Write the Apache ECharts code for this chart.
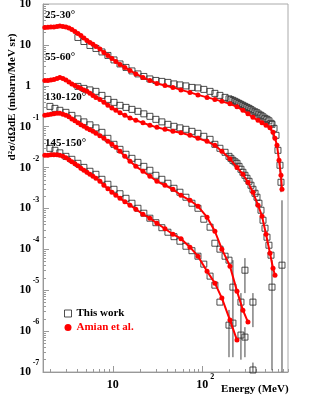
<!DOCTYPE html>
<html><head><meta charset="utf-8">
<script src="https://cdn.jsdelivr.net/npm/echarts@6/dist/echarts.min.js"></script>
<style>html,body{margin:0;padding:0;background:#fff}#c{width:311px;height:402px}</style>
</head><body><div id="c"></div>
<script>
// ---- Amian et al. (red dots) ----
const amianE = [1.72,1.86,2.01,2.17,2.35,2.53,2.74,2.96,3.20,3.45,3.73,4.03,4.35,4.70,5.08,5.49,5.93,6.41,7.10,7.87,8.72,9.67,10.7,11.9,13.5,15.4,17.9,21.5,25.7,30.8,37.9,46.5,57.2,72.1,88.6,112,137,164,202,242,282,321,365,416,461,511,566,612,644,678,714,751,771];
const amian25 = [26.7,27.0,27.4,27.4,28.2,29.0,28.2,27.4,25.9,23.8,21.3,19.0,17.0,14.8,12.8,11.5,10.3,9.16,7.96,6.53,5.52,4.67,3.94,3.33,2.81,2.38,1.95,1.60,1.35,1.14,1.02,0.912,0.793,0.689,0.598,0.520,0.465,0.416,0.361,0.305,0.251,0.206,0.169,0.143,0.124,0.108,0.0935,0.0727,0.0519,0.0350,0.0150,0.00647,0.00294];
const amian55 = [1.35,1.35,1.39,1.43,1.51,1.60,1.51,1.39,1.24,1.11,1.02,0.939,0.863,0.793,0.730,0.652,0.582,0.520,0.465,0.393,0.332,0.288,0.251,0.218,0.189,0.164,0.143,0.124,0.108,0.0962,0.0861,0.0769,0.0706,0.0614,0.0519,0.0438,0.0350,0.0249,0.0164,0.0101,0.00684,0.00437,0.00249,0.00120,6.46e-4,2.34e-4,8.0e-5,3.46e-5,2.33e-5,null,null,null,null];
const amian130 = [0.189,0.195,0.200,0.206,0.212,0.212,0.200,0.189,0.174,0.155,0.139,0.124,0.111,0.102,0.0910,0.0836,0.0769,0.0687,0.0597,0.0519,0.0438,0.0370,0.0313,0.0249,0.0188,0.0142,0.0107,0.00811,0.00612,0.00461,0.00369,0.00294,0.00210,0.00158,0.00113,6.10e-4,2.77e-4,1.01e-4,3.87e-5,9.5e-6,3.26e-6,1.66e-6,null,null,null,null,null,null,null,null,null,null,null];
const amian145 = [0.0199,0.0199,0.0205,0.0205,0.0205,0.0199,0.0188,0.0173,0.0155,0.0138,0.0124,0.0110,0.00959,0.00857,0.00766,0.00684,0.00612,0.00547,0.00461,0.00369,0.00303,0.00249,0.00210,0.00177,0.00146,0.00120,9.55e-4,7.21e-4,5.77e-4,4.35e-4,3.19e-4,2.34e-4,1.82e-4,1.13e-4,6.79e-5,2.92e-5,1.49e-5,6.41e-6,1.86e-6,6.04e-7,null,null,null,null,null,null,null,null,null,null,null,null,null];

// ---- This work (open squares), forward angles ----
const twFwdE = [4.03,4.70,5.49,6.41,7.48,8.72,10.2,11.9,13.9,16.2,18.9,22.0,25.7,30.0,35.0,40.9,47.8,55.7,65.0,75.9,88.6,103,121,137,156,178,197,207,218,230,242,255,268,282,297,313,330,347,365,385,405,426,449,473,498,524,551,581,596,628,661,695,732,751,771];
const tw25 = [15.2,12.1,9.69,8.18,6.72,5.52,4.29,3.42,2.81,2.31,1.95,1.69,1.47,1.35,1.28,1.21,1.11,1.05,0.993,0.912,0.887,0.816,0.730,0.652,0.582,0.520,0.479,0.457,0.440,0.416,0.393,0.371,0.351,0.332,0.313,0.296,0.280,0.261,0.243,0.230,0.218,0.202,0.189,0.174,0.160,0.151,0.139,0.121,0.114,0.0910,0.0614,0.0264,0.0114,0.00437,4.10e-5];
const tw55 = [0.966,0.863,0.793,0.730,0.582,0.465,0.393,0.332,0.296,0.265,0.237,0.206,0.179,0.151,0.131,0.114,0.102,0.0935,0.0861,0.0769,0.0687,0.0581,0.0490,0.0370,0.0296,0.0236,0.0188,0.0168,0.0150,0.0138,0.0127,0.0107,0.00908,0.00766,0.00647,0.00547,0.00461,0.00369,0.00294,0.00235,0.00188,0.00134,9.04e-4,5.15e-4,3.28e-4,1.98e-4,1.26e-4,7.19e-5,1.19e-5,null,null,null,null,null,null];

// ---- This work (open squares), backward angles ----
const twBwdE = [1.96,2.23,2.53,2.96,3.45,4.03,4.70,5.49,6.41,7.48,8.72,10.2,11.9,13.9,16.2,18.9,22.0,25.7,30.0,35.0,40.9,47.8,55.7,65.0,75.9,88.6,103,121,137,156,178,197,218,242,268,297,330,365];
const tw130 = [0.313,0.280,0.251,0.224,0.189,0.155,0.131,0.111,0.0935,0.0727,0.0519,0.0370,0.0279,0.0211,0.0168,0.0134,0.0107,0.00857,0.00647,0.00516,0.00413,0.00311,0.00249,0.00188,0.00134,0.00101,5.45e-4,3.48e-4,1.41e-4,1.01e-4,6.79e-5,5.43e-5,1.19e-5,null,5.12e-6,3.09e-5,null,5.12e-6];
const tw145 = [0.0295,0.0264,0.0229,0.0188,0.0159,0.0127,0.0101,0.00811,0.00684,0.00516,0.00390,0.00294,0.00229,0.00177,0.00134,0.00101,7.64e-4,5.77e-4,4.48e-4,3.38e-4,2.62e-4,2.04e-4,1.58e-4,1.19e-4,9.27e-5,6.79e-5,4.34e-5,2.21e-5,1.33e-5,5.12e-6,null,1.40e-6,1.57e-6,null,8.0e-7,7.14e-7,null,1.12e-7];

// error bars of This work: [energy, low, high]
const twErrors = [
  [771, 5e-8, 1.58e-3], [751, 0.0025, 0.0075], [732, 0.0075, 0.016],
  [596, 1.1e-7, 5.43e-5],
  [218, 2.3e-7, 5.43e-5], [297, 8.5e-6, 6.1e-5], [365, 1.25e-6, 8.5e-6],
  [197, 2.3e-7, 3.3e-6], [268, 2.0e-7, 8.5e-6], [297, 2.3e-7, 1.25e-6], [365, 5e-8, 1.7e-7]
];

const angleLabels = ['25-30°', '55-60°', '130-120°', '145-150°'];
const xMajorTicks = [10, 100];
const yMajorTicks = [1e-7,1e-6,1e-5,1e-4,1e-3,1e-2,1e-1,1,10,100];
const mult = [2,3,4,5,6,7,8,9];
const xMinorTicks = [];
[1, 10, 100].forEach(d => mult.forEach(m => xMinorTicks.push(d*m)));
const yMinorTicks = [];
yMajorTicks.slice(0, -1).forEach(d => mult.forEach(m => yMinorTicks.push(+(d*m).toPrecision(3))));

const FONT = "'Liberation Serif','Times New Roman',serif";
const AXC = '#999';

function pairs(E, V) { return E.map((e, i) => [e, V[i]]).filter(p => p[1] != null); }

function expLabelY(v) {
  const e = Math.round(Math.log10(v));
  if (e === 0) return '{b|1}{s|}';
  if (e === 1) return '{b|10}{s|}';
  return '{b|10}{s|' + e + '}';
}
function expLabelX(v) {
  const e = Math.round(Math.log10(v));
  if (e === 1) return '{p|}{b|10}{s|}';
  return '{p|}{b|10}{s|' + e + '}';
}
const richY = {
  b: {fontSize: 11.5, fontWeight: 'bold', fontFamily: FONT, color: '#000', lineHeight: 26, verticalAlign: 'middle'},
  s: {fontSize: 8, fontWeight: 'bold', fontFamily: FONT, color: '#000', width: 8, align: 'left', lineHeight: 10, verticalAlign: 'top', padding: [0,0,0,1]}
};
const richX = {
  p: {width: 6},
  b: {fontSize: 12, fontWeight: 'bold', fontFamily: FONT, color: '#000', lineHeight: 26, verticalAlign: 'middle'},
  s: {fontSize: 8, fontWeight: 'bold', fontFamily: FONT, color: '#000', width: 6, align: 'left', lineHeight: 10, verticalAlign: 'top', padding: [1,0,0,1]}
};

const xMin = 1.64, xMax = 900, yMin = 1e-7, yMax = 100;

function logAxisBase(extra) {
  return Object.assign({type: 'log', logBase: 10, splitLine: {show: false}, gridIndex: 0}, extra);
}

const chart = echarts.init(document.getElementById('c'), null, {renderer: 'canvas'});

const squareStyle = {color: 'rgba(0,0,0,0)', borderColor: '#222', borderWidth: 1};
function twSeries(E, V) {
  return {name: 'This work', type: 'scatter', data: pairs(E, V), symbol: 'rect', symbolSize: 6,
    itemStyle: squareStyle, z: 3, silent: true, animation: false};
}
function amSeries(V) {
  return {name: 'Amian et al.', type: 'line', data: pairs(amianE, V), symbol: 'circle', symbolSize: 5,
    showSymbol: true, itemStyle: {color: '#ff0000'}, lineStyle: {color: '#ff0000', width: 2},
    z: 4, silent: true, animation: false};
}

const option = {
  animation: false,
  backgroundColor: '#fff',
  grid: {left: 43, right: 23, top: 4, bottom: 30, show: true, borderColor: '#aaa', borderWidth: 1,
    containLabel: false, outerBoundsMode: 'none'},
  xAxis: [
    logAxisBase({min: xMin, max: xMax, position: 'bottom',
      axisLine: {show: true, lineStyle: {color: AXC}},
      axisTick: {show: true, inside: true, length: 6, lineStyle: {color: AXC}, customValues: xMajorTicks},
      axisLabel: {show: true, margin: 0, customValues: xMajorTicks, formatter: expLabelX, rich: richX},
      name: 'Energy (MeV)', nameLocation: 'end', nameGap: 0,
      nameTextStyle: {fontSize: 11, fontWeight: 'bold', fontFamily: FONT, color: '#000', align: 'right', verticalAlign: 'top', padding: [12, 0, 0, 0]}
    }),
    logAxisBase({min: xMin, max: xMax, position: 'bottom',
      axisLine: {show: false},
      axisTick: {show: true, inside: true, length: 3, lineStyle: {color: AXC}, customValues: xMinorTicks},
      axisLabel: {show: false}
    })
  ],
  yAxis: [
    logAxisBase({min: yMin, max: yMax, position: 'left',
      axisLine: {show: true, lineStyle: {color: AXC}},
      axisTick: {show: true, inside: true, length: 6, lineStyle: {color: AXC}, customValues: yMajorTicks},
      axisLabel: {show: true, margin: 3, customValues: yMajorTicks, formatter: expLabelY, rich: richY}
    }),
    logAxisBase({min: yMin, max: yMax, position: 'left', offset: 0,
      axisLine: {show: false},
      axisTick: {show: true, inside: true, length: 3, lineStyle: {color: AXC}, customValues: yMinorTicks},
      axisLabel: {show: false}
    })
  ],
  legend: {
    orient: 'vertical', left: 59, top: 303, itemWidth: 7, itemHeight: 7, itemGap: 3, selectedMode: false,
    textStyle: {fontSize: 11, fontWeight: 'bold', fontFamily: FONT},
    data: [
      {name: 'This work', icon: 'rect', itemStyle: {color: 'rgba(0,0,0,0)', borderColor: '#222', borderWidth: 1}, textStyle: {color: '#000'}},
      {name: 'Amian et al.', icon: 'circle', itemStyle: {color: '#ff0000'}, textStyle: {color: '#ff0000'}}
    ]
  },
  graphic: [
    {type: 'text', x: 12, y: 97, rotation: Math.PI/2,
      style: {text: 'd²σ/dΩdE (mbarn/MeV sr)', font: "bold 11px " + FONT, fill: '#000', align: 'center', verticalAlign: 'middle'}},
    {type: 'text', x: 45, y: 15, style: {text: angleLabels[0], font: "bold 11px " + FONT, fill: '#000', verticalAlign: 'middle'}},
    {type: 'text', x: 45, y: 57, style: {text: angleLabels[1], font: "bold 11px " + FONT, fill: '#000', verticalAlign: 'middle'}},
    {type: 'text', x: 45, y: 97, style: {text: angleLabels[2], font: "bold 11px " + FONT, fill: '#000', verticalAlign: 'middle'}},
    {type: 'text', x: 45, y: 143, style: {text: angleLabels[3], font: "bold 11px " + FONT, fill: '#000', verticalAlign: 'middle'}}
  ],
  series: [
    {name: 'err', type: 'custom', data: twErrors, clip: true, z: 2, silent: true,
      encode: {x: 0, y: [1, 2]},
      renderItem: function (params, api) {
        const a = api.coord([api.value(0), api.value(2)]);
        const b = api.coord([api.value(0), api.value(1)]);
        return {type: 'line', shape: {x1: a[0], y1: a[1], x2: b[0], y2: b[1]}, style: {stroke: '#444', lineWidth: 1}};
      }},
    twSeries(twFwdE, tw25), twSeries(twFwdE, tw55), twSeries(twBwdE, tw130), twSeries(twBwdE, tw145),
    amSeries(amian25), amSeries(amian55), amSeries(amian130), amSeries(amian145)
  ]
};
chart.setOption(option);
</script>
</body></html>
